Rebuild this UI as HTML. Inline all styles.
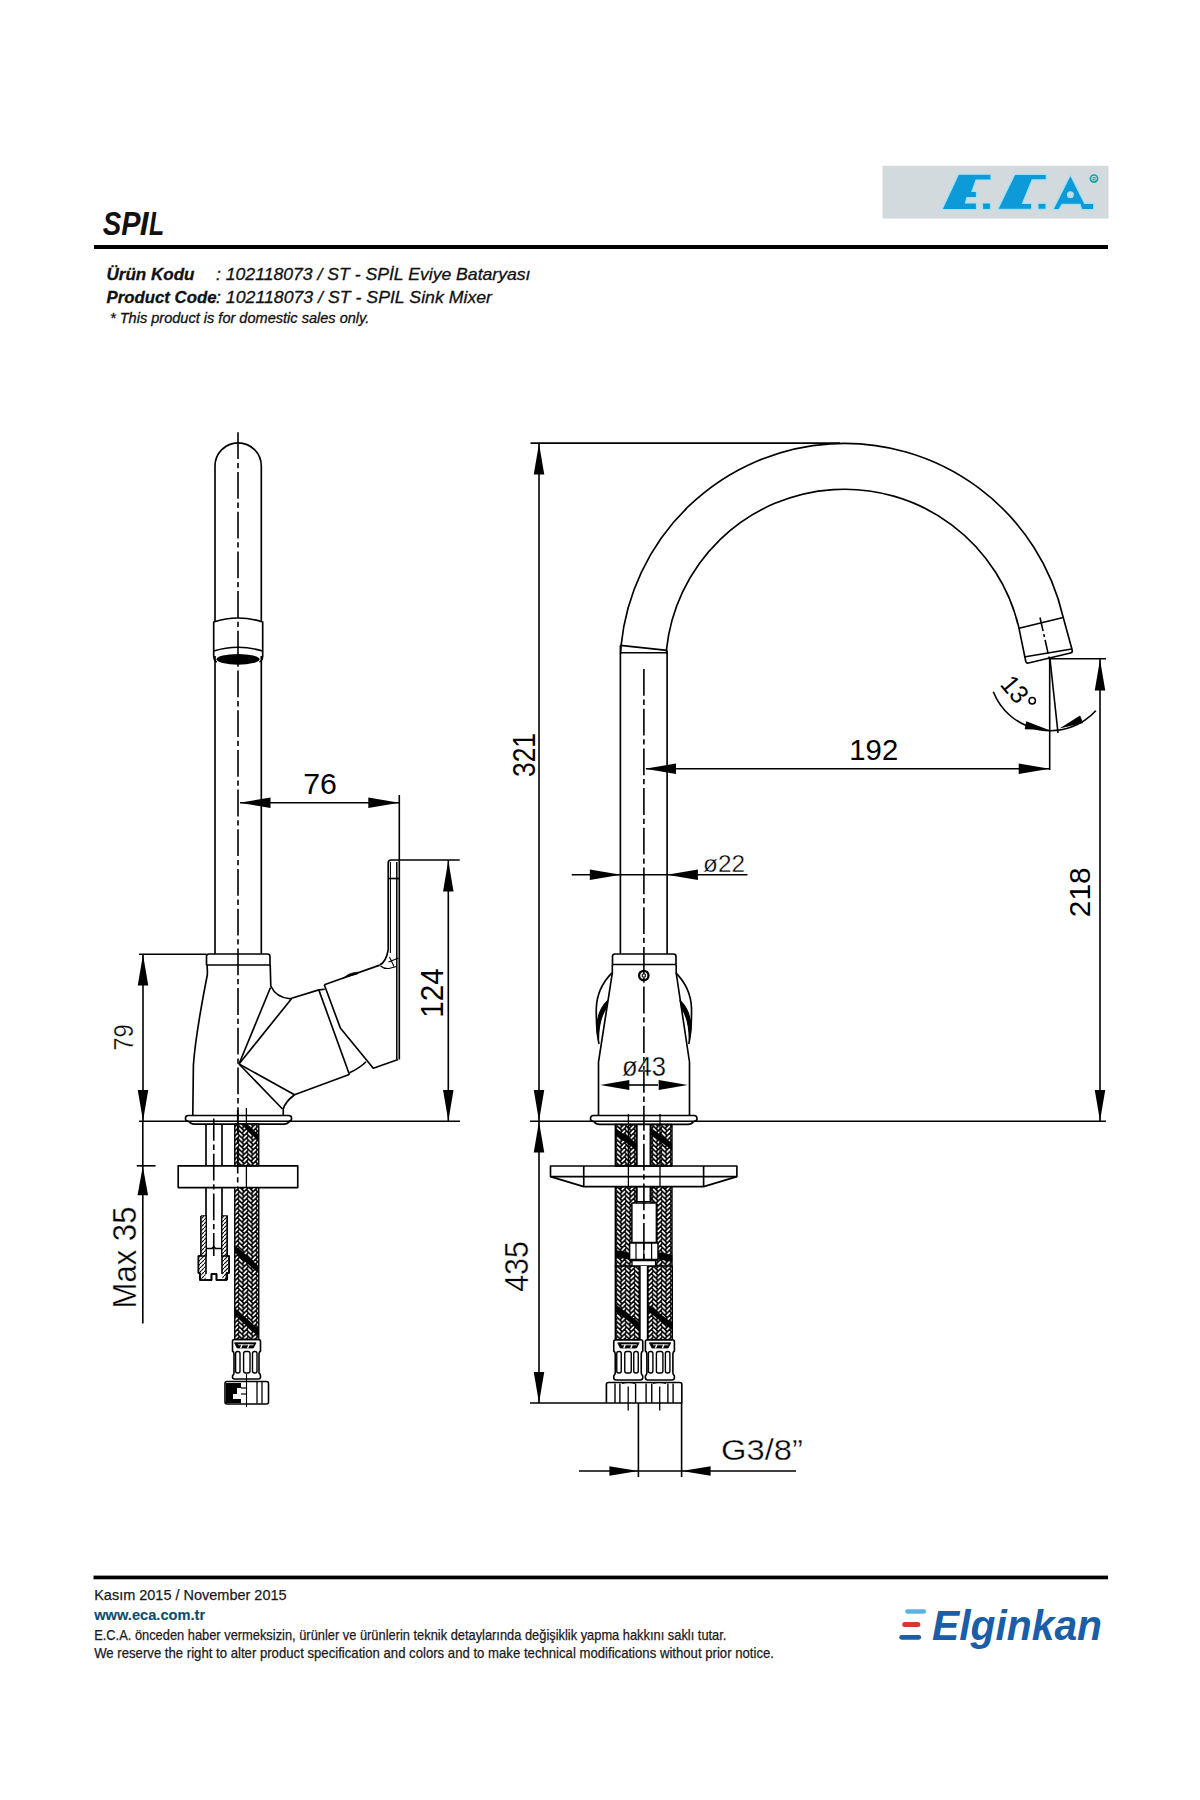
<!DOCTYPE html>
<html><head><meta charset="utf-8"><title>SPIL</title>
<style>
html,body{margin:0;padding:0;background:#fff;}
body{width:1200px;height:1800px;overflow:hidden;position:relative;font-family:"Liberation Sans",sans-serif;}
svg{position:absolute;left:0;top:0;}
</style></head>
<body>
<svg width="1200" height="1800" viewBox="0 0 1200 1800">
<defs>
<marker id="none"/>
</defs>
<!-- HEADER -->
<g id="hdr">
<rect x="882.5" y="165.8" width="226" height="52.7" fill="#d3dadd"/>
<g fill="#0d9ad9" stroke="#9be3f6" stroke-width="1.2" stroke-linejoin="miter">
<polygon points="958.5,174.25 991,174.25 991,180 976,180 972,191.5 976.5,191.5 976.5,197.5 967,197.5 965.5,203 976.5,203 976.5,209.5 942,209.5"/>
<rect x="982.5" y="203" width="8" height="6.5"/>
<polygon points="1014.7,174.4 1046.3,174.4 1046.3,179.9 1032.1,179.9 1022.5,203.3 1031.7,203.3 1031.7,209.25 997.75,209.25"/>
<rect x="1038" y="203.3" width="8" height="6"/>
<path fill-rule="evenodd" d="M1070.4,175.1 L1084.6,203.4 L1093.75,203.4 L1093.75,209.7 L1081.7,209.7 L1080,204.25 L1062.1,204.25 L1058.75,209.7 L1052.9,209.7 Z M1073.3,194.7 a2.9,2.9 0 1,0 -5.8,0 a2.9,2.9 0 1,0 5.8,0 Z"/>
</g>
<circle cx="1094" cy="178.6" r="3.6" fill="none" stroke="#12a3a6" stroke-width="1.7"/><text x="1094" y="180.6" font-family="Liberation Sans" font-weight="bold" font-size="5" text-anchor="middle" fill="#12a3a6">R</text>
<text x="112.0" y="234.8" font-family="Liberation Sans" font-weight="bold" font-style="italic" font-size="33.58" text-anchor="middle" textLength="18.52" lengthAdjust="spacingAndGlyphs" fill="#111">S</text><text x="130.95" y="234.8" font-family="Liberation Sans" font-weight="bold" font-style="italic" font-size="33.58" text-anchor="middle" textLength="19.25" lengthAdjust="spacingAndGlyphs" fill="#111">P</text><text x="144.2" y="234.8" font-family="Liberation Sans" font-weight="bold" font-style="italic" font-size="33.58" text-anchor="middle" textLength="8.85" lengthAdjust="spacingAndGlyphs" fill="#111">I</text><text x="156.6" y="234.8" font-family="Liberation Sans" font-weight="bold" font-style="italic" font-size="33.58" text-anchor="middle" textLength="15.17" lengthAdjust="spacingAndGlyphs" fill="#111">L</text>
<rect x="94" y="245" width="1014" height="4" fill="#000"/>
<g font-family="Liberation Sans" font-style="italic" fill="#111" stroke="#111" stroke-width="0.3">
<text x="106.5" y="279.5" font-weight="bold" font-size="17" textLength="88" lengthAdjust="spacingAndGlyphs">Ürün Kodu</text>
<text x="216" y="279.5" font-size="17" textLength="314.5" lengthAdjust="spacingAndGlyphs">: 102118073 / ST - SPİL Eviye Bataryası</text>
<text x="106.5" y="303" font-weight="bold" font-size="17" textLength="110" lengthAdjust="spacingAndGlyphs">Product Code</text>
<text x="216" y="303" font-size="17" textLength="276" lengthAdjust="spacingAndGlyphs">: 102118073 / ST - SPIL Sink Mixer</text>
<text x="110" y="322.8" font-size="14.5" textLength="259.3" lengthAdjust="spacingAndGlyphs">* This product is for domestic sales only.</text>
</g>
</g>
<!-- FOOTER -->
<g id="ftr">
<rect x="93.5" y="1575.6" width="1014.5" height="3.7" fill="#000"/>
<g font-family="Liberation Sans" fill="#1a1a1a" stroke="#1a1a1a" stroke-width="0.25">
<text x="94.2" y="1600.2" font-size="15.2" textLength="192.4" lengthAdjust="spacingAndGlyphs">Kasım 2015 / November 2015</text>
<text x="94.2" y="1619.6" font-size="14" font-weight="bold" fill="#0d4c6e" stroke="#0d4c6e" stroke-width="0.1" textLength="111" lengthAdjust="spacingAndGlyphs">www.eca.com.tr</text>
<text x="94.2" y="1640" font-size="14.2" textLength="632.2" lengthAdjust="spacingAndGlyphs">E.C.A. önceden haber vermeksizin, ürünler ve ürünlerin teknik detaylarında değişiklik yapma hakkını saklı tutar.</text>
<text x="94.2" y="1658.4" font-size="14.2" textLength="679.8" lengthAdjust="spacingAndGlyphs">We reserve the right to alter product specification and colors and to make technical modifications without prior notice.</text>
</g>
<g>
<g stroke-linecap="round" fill="none"><line x1="907.3" y1="1611.5" x2="924" y2="1611.5" stroke="#5cb3e3" stroke-width="4.3"/><line x1="904.8" y1="1624.5" x2="917.8" y2="1624.5" stroke="#e2312f" stroke-width="5"/><line x1="901.6" y1="1637.3" x2="918.8" y2="1637.3" stroke="#1a5ea8" stroke-width="4.7"/></g>
<text x="932" y="1640" font-family="Liberation Sans" font-weight="bold" font-style="italic" font-size="42" fill="#1a5ea8" textLength="170" lengthAdjust="spacingAndGlyphs">Elginkan</text>
</g>
</g>
<defs>
<pattern id="braid" patternUnits="userSpaceOnUse" width="9" height="4.67" x="0" y="0"><rect width="9" height="4.67" fill="#000"/><g stroke="#fff" stroke-width="1.7" stroke-linecap="round"><line x1="1.2" y1="3.2" x2="3.5" y2="0.8"/><line x1="5.6" y1="3.1" x2="7.9" y2="5.5"/><line x1="5.6" y1="-1.57" x2="7.9" y2="0.83"/></g></pattern>
<pattern id="hatch" patternUnits="userSpaceOnUse" width="4" height="4"><rect width="4" height="4" fill="#fff"/><line x1="0" y1="4" x2="4" y2="0" stroke="#000" stroke-width="1.1"/></pattern>
</defs>
<style>.ah{fill:#000;stroke:none}.cl{stroke-dasharray:26.8 3.8 5.3 3.8;stroke-width:1.6}#drw text{fill:#000;stroke:none}</style>
<g id="drw" fill="none" stroke="#000" stroke-width="1.65" stroke-linejoin="round" stroke-linecap="butt">
<path d="M215,621 V466 A23.15,23.15 0 0 1 261.3,466 V621"/>
<line x1="215" y1="656" x2="215" y2="954"/>
<line x1="261.3" y1="656" x2="261.3" y2="954"/>
<path d="M213.7,656 V622 Q238,614 262.7,622 V656"/>
<path d="M213.7,651 Q238,643.5 262.7,651"/>
<ellipse cx="238" cy="659.3" rx="21.5" ry="5.4" fill="#000" stroke="none"/>
<path d="M213.7,656 Q214,661 217,662"/>
<path d="M262.7,656 Q262.4,661 259.5,662"/>
<line class="cl" x1="238" y1="432.3" x2="238" y2="1125" stroke-dashoffset="0"/>
<path d="M206.5,965 V956.5 Q206.5,954 209,954 H267.5 Q270,954 270,956.5 V965"/>
<line x1="206.5" y1="965" x2="270" y2="965"/>
<path d="M207,965 Q207.6,970 207.3,975 Q195.5,1035 193.4,1065 L192.8,1115"/>
<path d="M270.2,965 L270.8,986 Q276,997.5 290,998.75 L318.8,989.9 L324.75,989.2"/>
<path d="M318.8,989.9 L349.5,1074.7"/>
<path d="M324.3,984.8 L379.75,965.1"/>
<path d="M324.3,984.8 L340.3,1027.9 L373.3,1068.25 L398.1,1059.5"/>
<path d="M349.5,1072.8 Q360,1068 366,1061.8"/>
<path d="M349.25,1074.5 L294.5,1094.75 L239,1064"/>
<path d="M239,1064 L291.5,998.75"/>
<path d="M239,1064 L270.5,987.5"/>
<path d="M239,1064 L282.5,1109"/>
<path d="M294.5,1094.75 Q285,1102 283.25,1109 V1115"/>
<path d="M343.5,978 Q349.5,972.3 358.5,972.2 L357.5,974 Q350,975.5 343.5,978 Z" fill="#000" stroke-width="0.8"/>
<path d="M399.3,860 V1059.5"/>
<path d="M396.8,862 V1059" stroke-width="1.5"/>
<path d="M388.2,950 V863 Q388.2,860 391,860 H399.3"/>
<line x1="388.2" y1="878.5" x2="399.3" y2="878.5"/>
<line x1="390.4" y1="862" x2="390.4" y2="953" stroke-width="1.1"/>
<path d="M379.75,965.1 Q386,962 388.2,950"/>
<path d="M380.5,966 Q384,969 389,968.5 L396.5,966.5 M389.5,957 L394,966.5 M388.5,962 L398.5,958" stroke-width="1.1"/>
<path d="M188.5,1121.3 Q185.5,1121.3 185.5,1119 V1118 Q185.5,1115.5 188.5,1115.5 H288.5 Q291.5,1115.5 291.5,1118 V1119 Q291.5,1121.3 288.5,1121.3"/>
<path d="M189,1121.5 Q191,1124.2 194.5,1124.2 H284 Q287.5,1124.2 289.5,1121.5" stroke-width="1.7"/>
<line class="cl" x1="213.75" y1="1118.5" x2="213.75" y2="1124" stroke-dashoffset="0"/>
<line x1="139" y1="1121.3" x2="460" y2="1121.3" stroke-width="1.6"/>
<line x1="139" y1="954.2" x2="206.5" y2="954.2" stroke-width="1.6"/>
<line x1="143" y1="954" x2="143" y2="1121" stroke-width="1.6"/>
<polygon class="ah" points="143,954.5 148.25,985.5 137.75,985.5"/>
<polygon class="ah" points="143,1121 137.75,1090 148.25,1090"/>
<text x="133" y="1037.5" font-size="27.31" text-anchor="middle" textLength="26.45" lengthAdjust="spacingAndGlyphs" transform="rotate(-90 133 1037.5)" style="stroke:#fff;stroke-width:0.35">79</text>
<line x1="142.8" y1="1121" x2="142.8" y2="1323.5" stroke-width="1.6"/>
<line x1="136.7" y1="1165.8" x2="155.6" y2="1165.8" stroke-width="1.6"/>
<polygon class="ah" points="142.8,1166.3 148.05,1195.3 137.55,1195.3"/>
<text x="136" y="1257.5" font-size="33.54" text-anchor="middle" textLength="101.86" lengthAdjust="spacingAndGlyphs" transform="rotate(-90 136 1257.5)" style="stroke:#fff;stroke-width:0.35">Max 35</text>
<line x1="240" y1="802.7" x2="399.3" y2="802.7" stroke-width="1.6"/>
<polygon class="ah" points="239.5,802.7 270.5,797.45 270.5,807.95"/>
<polygon class="ah" points="399.3,802.7 368.3,807.95 368.3,797.45"/>
<line x1="399.3" y1="795" x2="399.3" y2="860" stroke-width="1.6"/>
<text x="320" y="794" font-size="29.4" text-anchor="middle" textLength="33.69" lengthAdjust="spacingAndGlyphs">76</text>
<line x1="399.3" y1="860" x2="459.7" y2="860" stroke-width="1.6"/>
<line x1="448.3" y1="860" x2="448.3" y2="1121" stroke-width="1.6"/>
<polygon class="ah" points="448.3,860.5 453.55,891.5 443.05,891.5"/>
<polygon class="ah" points="448.3,1121 443.05,1090 453.55,1090"/>
<text x="443" y="993" font-size="31.63" text-anchor="middle" textLength="49.43" lengthAdjust="spacingAndGlyphs" transform="rotate(-90 443 993)">124</text>
<line x1="206" y1="1124" x2="206" y2="1166"/>
<line x1="222" y1="1124" x2="222" y2="1166"/>
<line x1="206" y1="1187.6" x2="206" y2="1256"/>
<line x1="222" y1="1187.6" x2="222" y2="1256"/>
<line class="cl" x1="213.75" y1="1124" x2="213.75" y2="1256" stroke-dashoffset="10"/>
<path d="M178.2,1165.8 H297.75 V1187.6 H178.2 Z"/>
<path d="M200.9,1216 H206 V1256 H198.5 V1273 H200 V1280 H211.5 V1274 H216.5 V1280 H226.5 V1273 H229 V1256 H222 V1216 H227.2 V1280"/>
<rect x="201.3" y="1216.5" width="4.3" height="63" fill="url(#hatch)" stroke="none"/>
<rect x="222.4" y="1216.5" width="4.3" height="63" fill="url(#hatch)" stroke="none"/>
<rect x="199" y="1256.5" width="2.4" height="16" fill="url(#hatch)" stroke="none"/>
<rect x="226.5" y="1256.5" width="2.2" height="16" fill="url(#hatch)" stroke="none"/>
<path d="M200.9,1216 V1256 M227.2,1216 V1256 M206,1256 H198.5 V1273 H200 V1280 H211.5 V1274 H216.5 V1280 H226.5 V1273 H229 V1256 H222 M206,1256 V1274 M222,1256 V1274 M206,1248.5 H212 L213.75,1246.5 L215.5,1248.5 H222" stroke-width="1.6"/>
<rect x="234.75" y="1124" width="24" height="41.8" fill="url(#braid)" stroke="#000" stroke-width="1.4"/>
<rect x="234.75" y="1187.6" width="24" height="151.9" fill="url(#braid)" stroke="#000" stroke-width="1.4"/>
<polygon points="241,1124 246.5,1124 258.7,1134.5 258.7,1141" fill="#000" stroke="none"/>
<polygon points="234.75,1245 234.75,1252.5 258.7,1273.5 258.7,1266" fill="#000" stroke="none"/>
<polygon points="234.75,1308 234.75,1315.5 258.7,1336.5 258.7,1329" fill="#000" stroke="none"/>
<line x1="246.4" y1="1108" x2="246.4" y2="1124" stroke-width="1.3"/>
<line x1="246.4" y1="1166" x2="246.4" y2="1187.6" stroke-width="1.3"/>
<line class="cl" x1="237.7" y1="1110" x2="237.7" y2="1188" stroke-dashoffset="3"/>
<path d="M232.5,1341.5 Q232.5,1339.5 234.5,1339.5 H258.5 Q260.5,1339.5 260.5,1341.5 V1351 Q259,1352 259,1354 V1373 Q260.5,1374 260.5,1376 V1377 Q260.5,1379 258.5,1379 H234.5 Q232.5,1379 232.5,1377 V1376 Q234,1374 234,1373 V1354 Q234,1352 232.5,1351 Z" stroke-width="1.6"/>
<rect x="235.6" y="1351.5" width="4.4" height="21.5" rx="2" fill="none" stroke-width="1.4"/>
<rect x="243.6" y="1351.5" width="6.4" height="21.5" rx="2" fill="none" stroke-width="1.4"/>
<rect x="252.5" y="1351.5" width="4.5" height="21.5" rx="2" fill="none" stroke-width="1.4"/>
<polygon points="234.6,1342.8 256,1342.8 253.3,1348 237.1,1348" fill="#000" stroke="#000" stroke-width="0.8"/>
<line x1="242.1" y1="1344.6" x2="240.6" y2="1348.2" stroke="#fff" stroke-width="1.3"/>
<line x1="249.1" y1="1344.6" x2="247.6" y2="1348.2" stroke="#fff" stroke-width="1.3"/>
<line x1="238.1" y1="1344.8" x2="253.6" y2="1344.8" stroke="#fff" stroke-width="0.9"/>
<path d="M227,1381.5 H266.5 Q268.5,1381.5 268.5,1383.5 V1402 Q268.5,1404 266.5,1404 H227 Q225,1404 225,1402 V1383.5 Q225,1381.5 227,1381.5 Z" stroke-width="1.6"/>
<path d="M226,1383 H241 V1388 H237 V1394 H233 V1399 H241 V1403 H226 Z" fill="#000" stroke="none"/>
<line x1="257" y1="1382" x2="257" y2="1403.5" stroke-width="1.3"/>
<line x1="262" y1="1382" x2="262" y2="1403.5" stroke-width="1.3"/>
<line x1="241" y1="1388" x2="246.5" y2="1388" stroke-width="1.2"/>
<line x1="241" y1="1394" x2="246.5" y2="1394" stroke-width="1.2"/>
<line x1="246.5" y1="1374" x2="246.5" y2="1407" stroke-width="1.1"/>
<path d="M620.6,654 Q620.8,649 621.1,645.4 A224.5,224.5 0 0 1 1063.25,617.5"/>
<path d="M667,654 L666.4,650.4 A179,179 0 0 1 1019,628.3"/>
<line x1="620.4" y1="645.4" x2="620.4" y2="954"/>
<line x1="667.1" y1="650.4" x2="667.1" y2="954"/>
<line x1="620.4" y1="645.4" x2="667.1" y2="650.4"/>
<line x1="620.4" y1="652.7" x2="667.1" y2="652.7"/>
<path d="M1019,628.3 L1063.25,617.5 L1072.3,650.5 Q1072.5,652.5 1070.5,653 L1028.5,663 Q1026.5,663.5 1025.8,661.5 Z"/>
<line x1="1024" y1="657" x2="1071.7" y2="649"/>
<line class="cl" x1="1040" y1="617.5" x2="1050" y2="661.7" style="stroke-dasharray:14 3 3 3"/>
<line class="cl" x1="643.9" y1="669" x2="643.9" y2="1128" stroke-dashoffset="0"/>
<line x1="530.5" y1="443.1" x2="840" y2="443.1" stroke-width="1.6"/>
<line x1="539" y1="443" x2="539" y2="1403" stroke-width="1.6"/>
<polygon class="ah" points="539,443.5 544.25,474.5 533.75,474.5"/>
<polygon class="ah" points="539,1121 533.75,1090 544.25,1090"/>
<polygon class="ah" points="539,1121.5 544.25,1152.5 533.75,1152.5"/>
<polygon class="ah" points="539,1403 533.75,1372 544.25,1372"/>
<line x1="530" y1="1121.3" x2="1106" y2="1121.3" stroke-width="1.6"/>
<line x1="530" y1="1403" x2="606.4" y2="1403" stroke-width="1.6"/>
<text x="535" y="755" font-size="31.26" text-anchor="middle" textLength="44.1" lengthAdjust="spacingAndGlyphs" transform="rotate(-90 535 755)">321</text>
<text x="528" y="1266.5" font-size="32.88" text-anchor="middle" textLength="50.42" lengthAdjust="spacingAndGlyphs" transform="rotate(-90 528 1266.5)" style="stroke:#fff;stroke-width:0.35">435</text>
<line x1="1050" y1="658.7" x2="1106" y2="658.7" stroke-width="1.6"/>
<line x1="1100" y1="659" x2="1100" y2="1121" stroke-width="1.6"/>
<polygon class="ah" points="1100,659.5 1105.25,690.5 1094.75,690.5"/>
<polygon class="ah" points="1100,1121 1094.75,1090 1105.25,1090"/>
<text x="1090" y="892.25" font-size="29.46" text-anchor="middle" textLength="49.9" lengthAdjust="spacingAndGlyphs" transform="rotate(-90 1090 892.25)">218</text>
<line x1="646" y1="768.7" x2="1050" y2="768.7" stroke-width="1.6"/>
<polygon class="ah" points="645,768.7 676,763.45 676,773.95"/>
<polygon class="ah" points="1049.7,768.7 1018.7,773.95 1018.7,763.45"/>
<line x1="1049.7" y1="659" x2="1049.7" y2="770" stroke-width="1.6"/>
<text x="873.75" y="760" font-size="30.16" text-anchor="middle" textLength="48.87" lengthAdjust="spacingAndGlyphs">192</text>
<path d="M1050,659 L1058,733" stroke-width="1.6"/>
<path d="M993.3,691.7 A61.5,61.5 0 0 0 1095.8,710.8" stroke-width="1.6"/>
<polygon class="ah" points="1049,730 1024.68,729.22 1026.25,721.37"/>
<polygon class="ah" points="1059.5,728.5 1080.08,715.52 1083.18,722.89"/>
<text x="1008" y="695" font-size="26" text-anchor="middle" textLength="27" lengthAdjust="spacingAndGlyphs" transform="rotate(50 1008 695)">13</text>
<circle cx="1032.2" cy="700.8" r="3.2" stroke-width="1.5"/>
<line x1="571.7" y1="874.7" x2="747.5" y2="874.7" stroke-width="1.6"/>
<polygon class="ah" points="620.8,874.7 589.8,879.95 589.8,869.45"/>
<polygon class="ah" points="666.9,874.7 697.9,869.45 697.9,879.95"/>
<text x="724" y="871.5" font-size="23.74" text-anchor="middle" textLength="42" lengthAdjust="spacingAndGlyphs" style="stroke:#fff;stroke-width:0.35">ø22</text>
<path d="M612.5,964.5 V956.5 Q612.5,954 615,954 H673.5 Q676,954 676,956.5 V964.5"/>
<line x1="612.5" y1="964.5" x2="676" y2="964.5"/>
<path d="M612.3,964.5 V973 L598.5,1062 V1115.5"/>
<path d="M676.2,964.5 V973 L689.5,1062 V1115.5"/>
<path d="M611.9,972.8 Q597,988 596.3,1008 Q596,1030 599,1044"/>
<path d="M607.8,1000.5 Q597.5,1010 596.8,1027 Q597,1035 598.6,1040 Q598.5,1020 606,1008.5 Z" stroke-width="1.1" fill="#000"/>
<path d="M675.9,972.8 Q690.8,988 691.5,1008 Q691.8,1030 688.8,1044"/>
<path d="M680,1000.5 Q690.3,1010 691,1027 Q690.8,1035 689.2,1040 Q689.3,1020 681.8,1008.5 Z" stroke-width="1.1" fill="#000"/>
<circle cx="643.8" cy="975.5" r="4.7" stroke-width="2.3"/>
<rect x="642.3" y="974" width="3" height="3" stroke-width="1"/>
<line x1="629" y1="1085" x2="658" y2="1085" stroke-width="1.6"/>
<polygon class="ah" points="600.3,1085 629.3,1080 629.3,1090"/>
<polygon class="ah" points="687.7,1085 658.7,1090 658.7,1080"/>
<text x="644" y="1075.5" font-size="27.31" text-anchor="middle" textLength="44.1" lengthAdjust="spacingAndGlyphs" style="stroke:#fff;stroke-width:0.35">ø43</text>
<path d="M593.5,1121.3 Q590.5,1121.3 590.5,1119 V1118.5 Q590.5,1115.5 593.5,1115.5 H694 Q697,1115.5 697,1118.5 V1119 Q697,1121.3 694,1121.3"/>
<path d="M594,1121.5 Q596,1124.4 599.5,1124.4 H688 Q691.5,1124.4 693.5,1121.5" stroke-width="1.7"/>
<rect x="615.3" y="1124.5" width="21" height="41.5" fill="url(#braid)" stroke="#000" stroke-width="1.4"/>
<rect x="615.3" y="1186.6" width="21" height="80" fill="url(#braid)" stroke="#000" stroke-width="1.4"/>
<rect x="651" y="1124.5" width="21" height="41.5" fill="url(#braid)" stroke="#000" stroke-width="1.4"/>
<rect x="651" y="1186.6" width="21" height="80" fill="url(#braid)" stroke="#000" stroke-width="1.4"/>
<rect x="615.3" y="1266" width="24.7" height="73.8" fill="url(#braid)" stroke="#000" stroke-width="1.4"/>
<rect x="647.5" y="1266" width="24.8" height="73.8" fill="url(#braid)" stroke="#000" stroke-width="1.4"/>
<polygon points="615.3,1128 615.3,1135 636.3,1150 636.3,1143" fill="#000" stroke="none"/>
<polygon points="651,1128 651,1135 672,1150 672,1143" fill="#000" stroke="none"/>
<polygon points="615.3,1304 615.3,1311 640,1330 640,1323" fill="#000" stroke="none"/>
<polygon points="615.3,1250 615.3,1257 640,1262 640,1255" fill="#000" stroke="none"/>
<polygon points="647.5,1304 647.5,1311 672.3,1330 672.3,1323" fill="#000" stroke="none"/>
<polygon points="647.5,1250 647.5,1257 672.3,1262 672.3,1255" fill="#000" stroke="none"/>
<rect x="637" y="1124.5" width="13.25" height="41.5" fill="#fff" stroke-width="1.4"/>
<rect x="637" y="1186.6" width="13.25" height="15" fill="#fff" stroke-width="1.4"/>
<rect x="631.9" y="1203" width="24.5" height="39.6" fill="#fff" stroke-width="1.5"/>
<rect x="629.6" y="1243" width="28.4" height="16.6" fill="#fff" stroke-width="1.5"/>
<line x1="636" y1="1243" x2="636" y2="1259.6" stroke-width="1.2"/>
<line x1="651.6" y1="1243" x2="651.6" y2="1259.6" stroke-width="1.2"/>
<line x1="643.8" y1="1243" x2="643.8" y2="1259.6" stroke-width="1.2"/>
<rect x="632" y="1260.6" width="23.6" height="5.4" fill="#fff" stroke-width="1.3"/>
<rect x="640" y="1266" width="7.5" height="73.8" fill="#fff" stroke="none"/>
<line x1="640" y1="1266" x2="640" y2="1339.8" stroke-width="1.4"/>
<line x1="647.5" y1="1266" x2="647.5" y2="1339.8" stroke-width="1.4"/>
<line class="cl" x1="643.9" y1="1124" x2="643.9" y2="1262" stroke-dashoffset="20"/>
<path d="M550.5,1166 H736.9 V1176.6 H550.5 Z"/>
<path d="M550.5,1176.6 L583.75,1186.6 H703.6 L736.9,1176.6"/>
<line x1="583.75" y1="1166" x2="583.75" y2="1186.6"/>
<line x1="703.6" y1="1166" x2="703.6" y2="1186.6"/>
<line x1="628.4" y1="1114" x2="628.4" y2="1187" stroke-width="1.3"/>
<line x1="660" y1="1114" x2="660" y2="1187" stroke-width="1.3"/>
<path d="M613.75,1341.8 Q613.75,1339.8 615.75,1339.8 H640.75 Q642.75,1339.8 642.75,1341.8 V1351 Q641.25,1352 641.25,1354 V1373 Q641.25,1374 642.75,1376 V1377.5 Q642.75,1380 640.25,1380 H616.25 Q613.75,1380 613.75,1377.5 V1376 Q615.25,1374 615.25,1373 V1354 Q615.25,1352 613.75,1351 Z" stroke-width="1.6"/>
<rect x="616.75" y="1351.5" width="4.5" height="21.5" rx="2" fill="none" stroke-width="1.4"/>
<rect x="624.75" y="1351.5" width="6.5" height="21.5" rx="2" fill="none" stroke-width="1.4"/>
<rect x="633.75" y="1351.5" width="4.5" height="21.5" rx="2" fill="none" stroke-width="1.4"/>
<polygon points="617.75,1342.8 639.15,1342.8 636.45,1348 620.25,1348" fill="#000" stroke="#000" stroke-width="0.8"/>
<line x1="625.25" y1="1344.6" x2="623.75" y2="1348.2" stroke="#fff" stroke-width="1.3"/>
<line x1="632.25" y1="1344.6" x2="630.75" y2="1348.2" stroke="#fff" stroke-width="1.3"/>
<line x1="621.25" y1="1344.8" x2="636.75" y2="1344.8" stroke="#fff" stroke-width="0.9"/>
<path d="M645.4,1341.8 Q645.4,1339.8 647.4,1339.8 H672.4 Q674.4,1339.8 674.4,1341.8 V1351 Q672.9,1352 672.9,1354 V1373 Q672.9,1374 674.4,1376 V1377.5 Q674.4,1380 671.9,1380 H647.9 Q645.4,1380 645.4,1377.5 V1376 Q646.9,1374 646.9,1373 V1354 Q646.9,1352 645.4,1351 Z" stroke-width="1.6"/>
<rect x="648.4" y="1351.5" width="4.5" height="21.5" rx="2" fill="none" stroke-width="1.4"/>
<rect x="656.4" y="1351.5" width="6.5" height="21.5" rx="2" fill="none" stroke-width="1.4"/>
<rect x="665.4" y="1351.5" width="4.5" height="21.5" rx="2" fill="none" stroke-width="1.4"/>
<polygon points="649.4,1342.8 670.8,1342.8 668.1,1348 651.9,1348" fill="#000" stroke="#000" stroke-width="0.8"/>
<line x1="656.9" y1="1344.6" x2="655.4" y2="1348.2" stroke="#fff" stroke-width="1.3"/>
<line x1="663.9" y1="1344.6" x2="662.4" y2="1348.2" stroke="#fff" stroke-width="1.3"/>
<line x1="652.9" y1="1344.8" x2="668.4" y2="1344.8" stroke="#fff" stroke-width="0.9"/>
<path d="M608.5,1382.5 H679.8 Q681.8,1382.5 681.8,1384.5 V1403 H606.4 V1384.5 Q606.4,1382.5 608.5,1382.5 Z"/>
<line x1="615" y1="1383.5" x2="615" y2="1403" stroke-width="1.4"/>
<line x1="619.9" y1="1383.5" x2="619.9" y2="1403" stroke-width="1.4"/>
<line x1="635.6" y1="1383.5" x2="635.6" y2="1403" stroke-width="1.4"/>
<line x1="646.1" y1="1383.5" x2="646.1" y2="1403" stroke-width="1.4"/>
<line x1="651.75" y1="1383.5" x2="651.75" y2="1403" stroke-width="1.4"/>
<line x1="667.9" y1="1383.5" x2="667.9" y2="1403" stroke-width="1.4"/>
<line x1="673.1" y1="1383.5" x2="673.1" y2="1403" stroke-width="1.4"/>
<line x1="628.2" y1="1386.5" x2="628.2" y2="1410.5" stroke-width="1.3"/>
<line x1="659.7" y1="1386.5" x2="659.7" y2="1410.5" stroke-width="1.3"/>
<path d="M622,1383.5 Q628.5,1381.5 635,1383.5" stroke-width="1.1"/>
<path d="M653,1383.5 Q659.5,1381.5 666,1383.5" stroke-width="1.1"/>
<line x1="638.4" y1="1403" x2="638.4" y2="1477" stroke-width="1.6"/>
<line x1="681.6" y1="1403" x2="681.6" y2="1477" stroke-width="1.6"/>
<line x1="579" y1="1471" x2="796" y2="1471" stroke-width="1.6"/>
<polygon class="ah" points="638.4,1471 609.4,1475.75 609.4,1466.25"/>
<polygon class="ah" points="681.6,1471 710.6,1466.25 710.6,1475.75"/>
<text x="762" y="1460" font-size="29.39" text-anchor="middle" textLength="81.91" lengthAdjust="spacingAndGlyphs" style="stroke:#fff;stroke-width:0.35">G3/8”</text>
</g>
</svg>
</body></html>
